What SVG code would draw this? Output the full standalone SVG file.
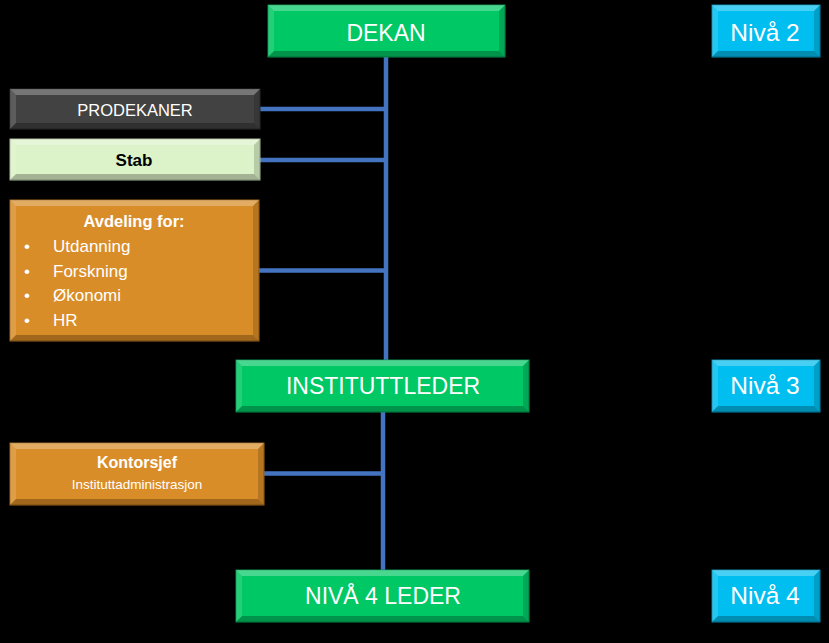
<svg xmlns="http://www.w3.org/2000/svg" width="829" height="643" viewBox="0 0 829 643">
<style>
.bg{fill:#000}
.green{fill:#00C865;stroke:#00904a;stroke-width:1}
.cyan{fill:#00BEEF;stroke:#0089ad;stroke-width:1}
.dark{fill:#424242;stroke:#2a2a2a;stroke-width:1}
.pale{fill:#DCF2C8;stroke:#a8b898;stroke-width:1}
.orange{fill:#D98D28;stroke:#9e6519;stroke-width:1}
.hi{fill:#fff;opacity:.28}
.hi2{fill:#fff;opacity:.14}
.sh{fill:#000;opacity:.16}
.sh2{fill:#000;opacity:.26}
.big{font-family:"Liberation Sans",Arial,sans-serif;font-size:23px;fill:#fff;text-anchor:middle}
.niv{font-family:"Liberation Sans",Arial,sans-serif;font-size:24.5px;fill:#fff;text-anchor:middle}
.med{font-family:"Liberation Sans",Arial,sans-serif;font-size:16.5px;fill:#fff;text-anchor:middle}
.lst{font-family:"Liberation Sans",Arial,sans-serif;font-size:17px;fill:#fff}
.conn{stroke:#4474C0;stroke-width:4.5;fill:none}
</style>
<rect class="bg" x="0" y="0" width="829" height="643"/>
<g id="connectors">
<path class="conn" d="M386 57 V360"/>
<path class="conn" d="M383 412 V570"/>
<path class="conn" d="M260 109 H386"/>
<path class="conn" d="M260 160 H386"/>
<path class="conn" d="M259 270.5 H386"/>
<path class="conn" d="M264 473.5 H383"/>
</g>
<g id="dekan">
<rect class="green" x="268" y="5" width="237" height="52"/>
<polygon class="hi" points="268,5 505,5 499,11 274,11"/>
<polygon class="hi2" points="268,5 274,11 274,51 268,57"/>
<polygon class="sh" points="505,5 505,57 499,51 499,11"/>
<polygon class="sh2" points="268,57 505,57 499,51 274,51"/>
<text class="big" x="386" y="41">DEKAN</text>
</g>
<g id="niva2">
<rect class="cyan" x="712" y="5" width="108" height="52"/>
<polygon class="hi" points="712,5 820,5 814,11 718,11"/>
<polygon class="hi2" points="712,5 718,11 718,51 712,57"/>
<polygon class="sh" points="820,5 820,57 814,51 814,11"/>
<polygon class="sh2" points="712,57 820,57 814,51 718,51"/>
<text class="niv" x="765" y="41">Nivå 2</text>
</g>
<g id="prodekaner">
<rect class="dark" x="10" y="89" width="250" height="40"/>
<polygon class="hi" points="10,89 260,89 254,95 16,95"/>
<polygon class="hi2" points="10,89 16,95 16,123 10,129"/>
<polygon class="sh" points="260,89 260,129 254,123 254,95"/>
<polygon class="sh2" points="10,129 260,129 254,123 16,123"/>
<text class="med" x="135" y="115.5">PRODEKANER</text>
</g>
<g id="stab">
<rect class="pale" x="10" y="139" width="250" height="41"/>
<polygon class="hi" points="10,139 260,139 254,145 16,145"/>
<polygon class="hi2" points="10,139 16,145 16,174 10,180"/>
<polygon class="sh" points="260,139 260,180 254,174 254,145"/>
<polygon class="sh2" points="10,180 260,180 254,174 16,174"/>
<text class="med" x="134" y="166" style="fill:#000;font-weight:bold;font-size:17px">Stab</text>
</g>
<g id="avdeling">
<rect class="orange" x="10" y="200" width="249" height="141"/>
<polygon class="hi" points="10,200 259,200 253,206 16,206"/>
<polygon class="hi2" points="10,200 16,206 16,335 10,341"/>
<polygon class="sh" points="259,200 259,341 253,335 253,206"/>
<polygon class="sh2" points="10,341 259,341 253,335 16,335"/>
<text class="med" x="134" y="227" style="font-weight:bold;font-size:16.5px">Avdeling for:</text>
<text class="lst" x="24" y="252">•</text><text class="lst" x="53" y="252">Utdanning</text>
<text class="lst" x="24" y="277">•</text><text class="lst" x="53" y="277">Forskning</text>
<text class="lst" x="24" y="301">•</text><text class="lst" x="53" y="301">Økonomi</text>
<text class="lst" x="24" y="326">•</text><text class="lst" x="53" y="326">HR</text>
</g>
<g id="instituttleder">
<rect class="green" x="236" y="360" width="293" height="52"/>
<polygon class="hi" points="236,360 529,360 523,366 242,366"/>
<polygon class="hi2" points="236,360 242,366 242,406 236,412"/>
<polygon class="sh" points="529,360 529,412 523,406 523,366"/>
<polygon class="sh2" points="236,412 529,412 523,406 242,406"/>
<text class="big" x="383" y="393.5">INSTITUTTLEDER</text>
</g>
<g id="niva3">
<rect class="cyan" x="712" y="360" width="108" height="52"/>
<polygon class="hi" points="712,360 820,360 814,366 718,366"/>
<polygon class="hi2" points="712,360 718,366 718,406 712,412"/>
<polygon class="sh" points="820,360 820,412 814,406 814,366"/>
<polygon class="sh2" points="712,412 820,412 814,406 718,406"/>
<text class="niv" x="765" y="394">Nivå 3</text>
</g>
<g id="kontorsjef">
<rect class="orange" x="10" y="443" width="254" height="62"/>
<polygon class="hi" points="10,443 264,443 258,449 16,449"/>
<polygon class="hi2" points="10,443 16,449 16,499 10,505"/>
<polygon class="sh" points="264,443 264,505 258,499 258,449"/>
<polygon class="sh2" points="10,505 264,505 258,499 16,499"/>
<text class="med" x="137" y="468" style="font-weight:bold;font-size:16px">Kontorsjef</text>
<text class="med" x="137" y="489" style="font-size:13.5px">Instituttadministrasjon</text>
</g>
<g id="niva4leder">
<rect class="green" x="236" y="570" width="293" height="52"/>
<polygon class="hi" points="236,570 529,570 523,576 242,576"/>
<polygon class="hi2" points="236,570 242,576 242,616 236,622"/>
<polygon class="sh" points="529,570 529,622 523,616 523,576"/>
<polygon class="sh2" points="236,622 529,622 523,616 242,616"/>
<text class="big" x="383" y="604">NIVÅ 4 LEDER</text>
</g>
<g id="niva4">
<rect class="cyan" x="712" y="570" width="108" height="52"/>
<polygon class="hi" points="712,570 820,570 814,576 718,576"/>
<polygon class="hi2" points="712,570 718,576 718,616 712,622"/>
<polygon class="sh" points="820,570 820,622 814,616 814,576"/>
<polygon class="sh2" points="712,622 820,622 814,616 718,616"/>
<text class="niv" x="765" y="604">Nivå 4</text>
</g>
</svg>
